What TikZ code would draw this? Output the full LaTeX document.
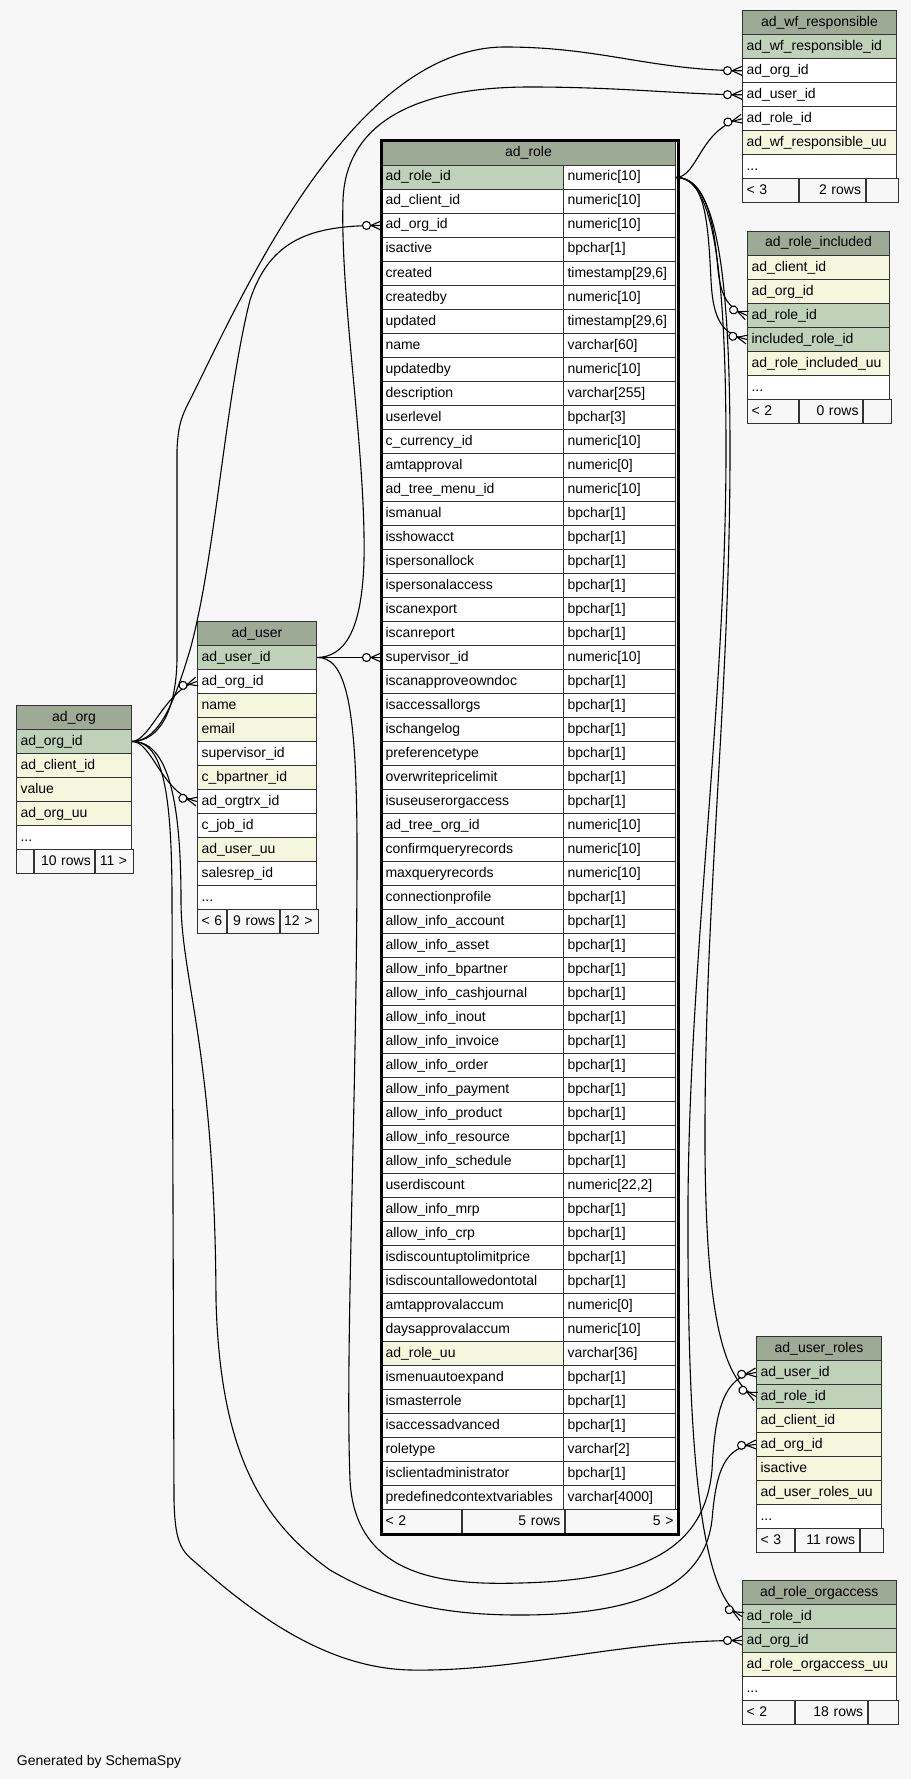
\documentclass[tikz,border=0pt]{standalone}
\usepackage{fontspec}
\setmainfont{Liberation Sans}
\usetikzlibrary{decorations.markings}
\definecolor{bg}{HTML}{F7F7F7}
\definecolor{headbg}{HTML}{9DAB96}
\definecolor{pkbg}{HTML}{BFD1B9}
\definecolor{idxbg}{HTML}{F4F7DE}
\begin{document}
\begin{tikzpicture}[x=1pt,y=1pt]
\tikzstyle{every node}+=[inner sep=0pt]
\tikzstyle{cell}=[draw=black!80, line width=1pt, anchor=north west, minimum height=24pt, inner xsep=4pt, inner ysep=0pt, text height=10pt, text depth=3pt, align=left, font=\fontsize{14}{16}\selectfont]
\tikzstyle{head}=[cell, fill=headbg, align=center]
\tikzstyle{foot}=[cell, fill=bg]
\tikzstyle{fk}=[draw, line width=1.1pt, postaction={decorate, decoration={markings, mark=at position -0.5pt with {\draw [line width=1.1pt] (0.5pt,4.5pt) -- (-9.5pt,0pt) -- (0.5pt,-4.5pt); \draw [line width=1.1pt, fill=white] (-14pt,0pt) circle (4pt);}}}]
\useasboundingbox (0,0) rectangle (911,-1779);
\fill [bg] (0,0) rectangle (911,-1779);
\node [head, text width=146pt] (wf-0) at (742,-10.3) {ad\_wf\_responsible};
\foreach \txt/\fc [count=\i] in {ad\_wf\_responsible\_id/pkbg, ad\_org\_id/white, ad\_user\_id/white, ad\_role\_id/white, ad\_wf\_responsible\_uu/idxbg}
  \node [cell, fill=\fc, text width=146pt] (wf-\i) at (742,{-10.3-24*\i}) {\txt};
\node [cell, fill=white, text width=146pt] (wf-6) at (742,-154.3) {...};
\node [foot, text width=48pt] (wf-f1) at (742,-178.3) {< 3};
\node [foot, text width=57.5pt, align=right] (wf-f2) at (wf-f1.north east) {2 rows};
\node [foot, text width=24.5pt] (wf-f3) at (wf-f2.north east) {};
\node [head, text width=134pt] (incl-0) at (747,-231) {ad\_role\_included};
\foreach \txt/\fc [count=\i] in {ad\_client\_id/idxbg, ad\_org\_id/idxbg, ad\_role\_id/pkbg, included\_role\_id/pkbg, ad\_role\_included\_uu/idxbg}
  \node [cell, fill=\fc, text width=134pt] (incl-\i) at (747,{-231-24*\i}) {\txt};
\node [cell, fill=white, text width=134pt] (incl-6) at (747,-375) {...};
\node [foot, text width=42.7pt] (incl-f1) at (747,-399) {< 2};
\node [foot, text width=55.3pt, align=right] (incl-f2) at (incl-f1.north east) {0 rows};
\node [foot, text width=20pt] (incl-f3) at (incl-f2.north east) {};
\node [head, text width=286pt] (role-0) at (381,-141) {ad\_role};
\foreach \txt/\fc/\typ [count=\i] in {ad\_role\_id/pkbg/numeric[10], ad\_client\_id/white/numeric[10], ad\_org\_id/white/numeric[10], isactive/white/bpchar[1], created/white/{timestamp[29,6]}, createdby/white/numeric[10], updated/white/{timestamp[29,6]}, name/white/varchar[60], updatedby/white/numeric[10], description/white/varchar[255], userlevel/white/bpchar[3], c\_currency\_id/white/numeric[10], amtapproval/white/numeric[0], ad\_tree\_menu\_id/white/numeric[10], ismanual/white/bpchar[1], isshowacct/white/bpchar[1], ispersonallock/white/bpchar[1], ispersonalaccess/white/bpchar[1], iscanexport/white/bpchar[1], iscanreport/white/bpchar[1], supervisor\_id/white/numeric[10], iscanapproveowndoc/white/bpchar[1], isaccessallorgs/white/bpchar[1], ischangelog/white/bpchar[1], preferencetype/white/bpchar[1], overwritepricelimit/white/bpchar[1], isuseuserorgaccess/white/bpchar[1], ad\_tree\_org\_id/white/numeric[10], confirmqueryrecords/white/numeric[10], maxqueryrecords/white/numeric[10], connectionprofile/white/bpchar[1], allow\_info\_account/white/bpchar[1], allow\_info\_asset/white/bpchar[1], allow\_info\_bpartner/white/bpchar[1], allow\_info\_cashjournal/white/bpchar[1], allow\_info\_inout/white/bpchar[1], allow\_info\_invoice/white/bpchar[1], allow\_info\_order/white/bpchar[1], allow\_info\_payment/white/bpchar[1], allow\_info\_product/white/bpchar[1], allow\_info\_resource/white/bpchar[1], allow\_info\_schedule/white/bpchar[1], userdiscount/white/{numeric[22,2]}, allow\_info\_mrp/white/bpchar[1], allow\_info\_crp/white/bpchar[1], isdiscountuptolimitprice/white/bpchar[1], isdiscountallowedontotal/white/bpchar[1], amtapprovalaccum/white/numeric[0], daysapprovalaccum/white/numeric[10], ad\_role\_uu/idxbg/varchar[36], ismenuautoexpand/white/bpchar[1], ismasterrole/white/bpchar[1], isaccessadvanced/white/bpchar[1], roletype/white/varchar[2], isclientadministrator/white/bpchar[1], predefinedcontextvariables/white/varchar[4000]}
  {\node [cell, fill=\fc, text width=174pt] (role-\i) at (381,{-141-24*\i}) {\txt};
   \node [cell, fill=white, text width=104pt] (rtype-\i) at (563,{-141-24*\i}) {\typ};}
\node [foot, text width=72.2pt] (role-f1) at (381,-1509) {< 2};
\node [foot, text width=93.8pt, align=right] (role-f2) at (role-f1.north east) {5 rows};
\node [foot, text width=104pt, align=right] (role-f3) at (role-f2.north east) {5 >};
\draw [line width=3pt] (role-0.north west) rectangle (role-f3.south east);
\node [head, text width=107pt] (org-0) at (16,-705) {ad\_org};
\foreach \txt/\fc [count=\i] in {ad\_org\_id/pkbg, ad\_client\_id/idxbg, value/idxbg, ad\_org\_uu/idxbg}
  \node [cell, fill=\fc, text width=107pt] (org-\i) at (16,{-705-24*\i}) {\txt};
\node [cell, fill=white, text width=107pt] (org-5) at (16,-825) {...};
\node [foot, text width=9.3pt] (org-f1) at (16,-849) {};
\node [foot, text width=52pt, align=right] (org-f2) at (org-f1.north east) {10 rows};
\node [foot, text width=29.7pt] (org-f3) at (org-f2.north east) {11 >};
\node [head, text width=111pt] (user-0) at (197,-621) {ad\_user};
\foreach \txt/\fc [count=\i] in {ad\_user\_id/pkbg, ad\_org\_id/white, name/idxbg, email/idxbg, supervisor\_id/white, c\_bpartner\_id/idxbg, ad\_orgtrx\_id/white, c\_job\_id/white, ad\_user\_uu/idxbg, salesrep\_id/white}
  \node [cell, fill=\fc, text width=111pt] (user-\i) at (197,{-621-24*\i}) {\txt};
\node [cell, fill=white, text width=111pt] (user-11) at (197,-885) {...};
\node [foot, text width=20.7pt] (user-f1) at (197,-909) {< 6};
\node [foot, text width=44pt, align=right] (user-f2) at (user-f1.north east) {9 rows};
\node [foot, text width=30.3pt] (user-f3) at (user-f2.north east) {12 >};
\node [head, text width=117pt] (uroles-0) at (756,-1336) {ad\_user\_roles};
\foreach \txt/\fc [count=\i] in {ad\_user\_id/pkbg, ad\_role\_id/pkbg, ad\_client\_id/idxbg, ad\_org\_id/idxbg, isactive/idxbg, ad\_user\_roles\_uu/idxbg}
  \node [cell, fill=\fc, text width=117pt] (uroles-\i) at (756,{-1336-24*\i}) {\txt};
\node [cell, fill=white, text width=117pt] (uroles-7) at (756,-1504) {...};
\node [foot, text width=29.7pt] (uroles-f1) at (756,-1528) {< 3};
\node [foot, text width=56pt, align=right] (uroles-f2) at (uroles-f1.north east) {11 rows};
\node [foot, text width=15.3pt] (uroles-f3) at (uroles-f2.north east) {};
\node [head, text width=145.5pt] (oacc-0) at (742,-1580) {ad\_role\_orgaccess};
\foreach \txt/\fc [count=\i] in {ad\_role\_id/pkbg, ad\_org\_id/pkbg, ad\_role\_orgaccess\_uu/idxbg}
  \node [cell, fill=\fc, text width=145.5pt] (oacc-\i) at (742,{-1580-24*\i}) {\txt};
\node [cell, fill=white, text width=145.5pt] (oacc-4) at (742,-1676) {...};
\node [foot, text width=43.7pt] (oacc-f1) at (742,-1700) {< 2};
\node [foot, text width=64pt, align=right] (oacc-f2) at (oacc-f1.north east) {18 rows};
\node [foot, text width=21.8pt] (oacc-f3) at (oacc-f2.north east) {};
\draw [fk] (org-1.east) .. controls (160,-741) and (176,-710) .. (177,-660) -- (177,-450) .. controls (178,-425) and (182,-415) .. (190,-400) .. controls (240,-300) and (350,-47) .. (505,-47) .. controls (600,-47) and (650,-70) .. (wf-2.west);
\draw [fk] (user-1.east) .. controls (345,-657) and (362,-630) .. (364,-560) .. controls (366,-450) and (340,-300) .. (343,-200) .. controls (346,-120) and (420,-87) .. (530,-87) .. controls (620,-87) and (680,-94.3) .. (wf-3.west);
\draw [fk] (rtype-1.east) .. controls (698,-177) and (700,-128) .. (wf-4.west);
\draw [fk] (org-1.east) .. controls (160,-741) and (175,-700) .. (190,-650) .. controls (215,-560) and (225,-400) .. (250,-300) .. controls (270,-240) and (310,-225) .. (role-3.west);
\draw [fk] (rtype-1.east) .. controls (705,-177) and (714,-220) .. (718,-270) .. controls (721,-295) and (726,-307) .. (incl-3.west);
\draw [fk] (rtype-1.east) .. controls (705,-177) and (708,-220) .. (711,-280) .. controls (713,-320) and (722,-334) .. (incl-4.west);
\draw [fk] (rtype-1.east) .. controls (712,-177) and (730,-250) .. (730,-450) .. controls (730,-700) and (704,-900) .. (705,-1150) .. controls (706,-1300) and (720,-1380) .. (uroles-2.west);
\draw [fk] (rtype-1.east) .. controls (710,-177) and (726,-250) .. (726,-450) .. controls (726,-700) and (690,-950) .. (688,-1200) .. controls (687,-1450) and (700,-1595) .. (oacc-1.west);
\draw [fk] (user-1.east) -- (role-21.west);
\draw [fk] (user-1.east) .. controls (345,-657) and (357,-700) .. (357,-850) .. controls (357,-1100) and (345,-1350) .. (350,-1480) .. controls (355,-1580) and (450,-1585) .. (520,-1583) .. controls (650,-1580) and (705,-1545) .. (712,-1470) .. controls (715,-1410) and (724,-1376) .. (uroles-1.west);
\draw [fk] (org-1.east) .. controls (165,-741) and (181,-790) .. (181,-900) .. controls (181,-980) and (215,-1050) .. (216,-1300) .. controls (220,-1450) and (260,-1520) .. (330,-1570) .. controls (390,-1605) and (450,-1615) .. (520,-1615) .. controls (650,-1615) and (705,-1580) .. (712,-1520) .. controls (716,-1470) and (725,-1446) .. (uroles-4.west);
\draw [fk] (org-1.east) .. controls (160,-741) and (172,-780) .. (172,-900) -- (174,-1500) .. controls (175,-1540) and (180,-1550) .. (195,-1562) .. controls (260,-1620) and (330,-1668) .. (410,-1670) .. controls (520,-1672) and (620,-1640) .. (oacc-2.west);
\draw [fk] (org-1.east) .. controls (150,-741) and (165,-690) .. (user-2.west);
\draw [fk] (org-1.east) .. controls (152,-741) and (162,-794) .. (user-7.west);
\node [anchor=base west, font=\fontsize{14}{16}\selectfont] (gen) at (16.7,-1765) {Generated by SchemaSpy};
\end{tikzpicture}
\end{document}
